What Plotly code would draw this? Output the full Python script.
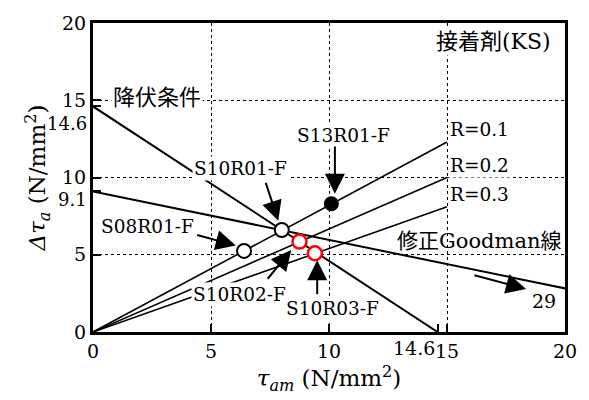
import plotly.graph_objects as go

# Fatigue limit diagram for adhesive KS: amplitude vs mean shear stress
yield_limit = 14.6          # 降伏条件 intercepts (N/mm2)
goodman_amp0 = 9.1          # modified Goodman: amplitude at zero mean
goodman_mean0 = 29.0        # modified Goodman: mean at zero amplitude

# stress-ratio lines, drawn from the origin to tau_am = 15
r_labels = ["R=0.1", "R=0.2", "R=0.3"]
r_end_x = [15.0, 15.0, 15.0]
r_end_y = [12.3, 10.0, 8.1]

# specimens (tau_am, delta tau_a)
spec_names = ["S13R01-F", "S10R01-F", "S08R01-F", "S10R02-F", "S10R03-F"]
spec_x = [10.1, 8.0, 6.4, 8.75, 9.4]
spec_y = [8.3, 6.6, 5.25, 5.85, 5.1]
spec_kind = ["filled", "open", "open", "red", "red"]

tick_vals = [0, 5, 10, 15, 20]
tick_text = ["0", "5", "10", "15", "20"]

SERIF = "DejaVu Serif"
MIXED = "DejaVu Serif, Noto Sans CJK JP"

fig = go.Figure()

# yield line and modified Goodman line
fig.add_trace(go.Scatter(x=[0, yield_limit], y=[yield_limit, 0], mode="lines",
                         line=dict(color="black", width=2), hoverinfo="skip"))
fig.add_trace(go.Scatter(x=[0, goodman_mean0], y=[goodman_amp0, 0], mode="lines",
                         line=dict(color="black", width=2), hoverinfo="skip"))

# stress ratio lines
for ex, ey in zip(r_end_x, r_end_y):
    fig.add_trace(go.Scatter(x=[0, ex], y=[0, ey], mode="lines",
                             line=dict(color="black", width=1.6), hoverinfo="skip"))

# specimen markers
styles = {
    "filled": dict(color="black", size=13, line=dict(color="black", width=2)),
    "open": dict(color="white", size=14, line=dict(color="black", width=2)),
    "red": dict(color="white", size=14, line=dict(color="red", width=2.5)),
}
for x, y, k in zip(spec_x, spec_y, spec_kind):
    fig.add_trace(go.Scatter(x=[x], y=[y], mode="markers", marker=styles[k],
                             hoverinfo="skip"))

ann = []

def label(text, x, y, size=18.5, xanchor="center", bg="white", family=SERIF):
    ann.append(dict(text=text, x=x, y=y, xref="x", yref="y", showarrow=False,
                    xanchor=xanchor, yanchor="middle", bgcolor=bg,
                    font=dict(family=family, size=size, color="black")))

def arrow(x, y, ax, ay):
    ann.append(dict(text="", x=x, y=y, ax=ax, ay=ay, xref="x", yref="y",
                    axref="x", ayref="y", showarrow=True, arrowhead=2,
                    arrowsize=2.0, arrowwidth=2, arrowcolor="black", standoff=0))

# specimen labels and pointers
label("S13R01-F", 10.6, 12.7)
arrow(10.25, 8.95, 10.25, 12.1)
label("S10R01-F", 6.25, 10.6)
arrow(7.85, 7.2, 7.3, 9.75)
label("S08R01-F", 2.3, 6.85)
arrow(6.05, 5.6, 4.35, 6.3)
label("S10R02-F", 6.2, 2.45)
arrow(8.4, 5.3, 7.35, 3.35)
label("S10R03-F", 10.15, 1.55)
arrow(9.5, 4.65, 9.5, 2.35)

# line labels
label("降伏条件", 2.7, 15.2, size=22, family=MIXED)
label("修正Goodman線", 16.35, 5.9, size=21, bg="rgba(0,0,0,0)", family=MIXED)
arrow(18.35, 2.78, 16.1, 3.7)
label("29", 19.1, 2.0, size=19, bg="rgba(0,0,0,0)")
label("接着剤(KS)", 16.95, 18.8, size=22, family=MIXED)
for t, ey in zip(r_labels, r_end_y):
    label(t, 15.05, ey + 0.8, xanchor="left")

# intercept values placed beside the regular tick labels
ann.append(dict(text=str(yield_limit), x=0, y=yield_limit, xref="x", yref="y",
                showarrow=False, xanchor="right", yanchor="middle", xshift=-4, yshift=-17,
                font=dict(family=SERIF, size=18, color="black")))
ann.append(dict(text=str(goodman_amp0), x=0, y=goodman_amp0, xref="x", yref="y",
                showarrow=False, xanchor="right", yanchor="middle", xshift=-4, yshift=-8,
                font=dict(family=SERIF, size=18, color="black")))
ann.append(dict(text=str(yield_limit), x=yield_limit, y=0, xref="x", yref="y",
                showarrow=False, xanchor="center", yanchor="top", xshift=-24, yshift=-3,
                font=dict(family=SERIF, size=19, color="black")))

axis_common = dict(
    range=[0, 20], tickvals=tick_vals, ticktext=tick_text,
    showgrid=True, gridcolor="black", griddash="dot", gridwidth=1.3,
    zeroline=False, showline=True, linecolor="black", linewidth=3, mirror=True,
    ticks="inside", ticklen=8, tickwidth=2, tickcolor="black",
    tickfont=dict(family=SERIF, size=19, color="black"),
)

fig.update_layout(
    width=589, height=400,
    margin=dict(l=93, r=20, t=14, b=68),
    plot_bgcolor="white", paper_bgcolor="white",
    showlegend=False,
    font=dict(family=SERIF),
    annotations=ann,
    xaxis=dict(**axis_common,
               minor=dict(tickvals=[yield_limit], ticks="inside", ticklen=8,
                          tickwidth=2, tickcolor="black", showgrid=False),
               title=dict(text="<i>τ</i><sub><i>am</i></sub> (N/mm<sup>2</sup>)",
                          font=dict(family=SERIF, size=23, color="black"),
                          standoff=4)),
    yaxis=dict(**axis_common,
               minor=dict(tickvals=[goodman_amp0, yield_limit], ticks="inside", ticklen=8,
                          tickwidth=2, tickcolor="black", showgrid=False),
               title=dict(text="<i>Δτ</i><sub><i>a</i></sub> (N/mm<sup>2</sup>)",
                          font=dict(family=SERIF, size=23, color="black"),
                          standoff=10)),
)

fig.write_html("out.html")
